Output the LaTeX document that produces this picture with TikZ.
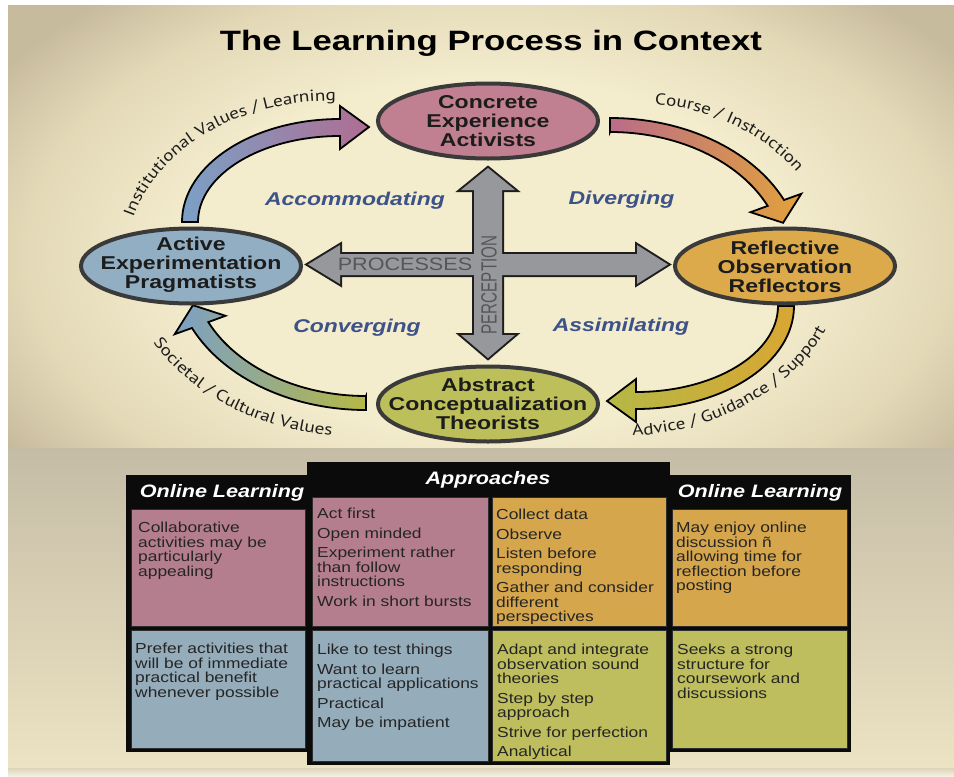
\documentclass[tikz,border=0pt]{standalone}
\usepackage{fontspec}
\setmainfont{Liberation Sans}
\newfontfamily\wideface{Liberation Sans}[FakeStretch=1.24]
\newfontfamily\cellface{Liberation Sans}[FakeStretch=1.2]
\newfontfamily\narrowface{Liberation Sans}[FakeStretch=0.69]
\newfontfamily\arcface{PT Sans}[FakeStretch=1.2]
\usetikzlibrary{shapes.geometric,decorations.text}

\definecolor{bgcenter}{HTML}{F3ECCD}
\definecolor{bgmid}{HTML}{E3D9B7}
\definecolor{bgedge}{HTML}{C7BB9D}
\definecolor{lowtop}{HTML}{C5BCA6}
\definecolor{lowbot}{HTML}{ECE3C3}
\definecolor{ringgray}{HTML}{3A3A3A}
\definecolor{ink}{HTML}{1C1C1C}
\definecolor{cellink}{HTML}{252525}
\definecolor{quadblue}{HTML}{3C5288}
\definecolor{crossfill}{HTML}{97989C}
\definecolor{crossline}{HTML}{1E1E1E}
\definecolor{crossink}{HTML}{56565A}
\definecolor{cepink}{HTML}{C18091}
\definecolor{aeblue}{HTML}{92AEC3}
\definecolor{rogold}{HTML}{DCAA4A}
\definecolor{acolive}{HTML}{BDBF5A}
\definecolor{cellpink}{HTML}{B57E8E}
\definecolor{cellgold}{HTML}{D6A64C}
\definecolor{cellblue}{HTML}{95ACBB}
\definecolor{cellolive}{HTML}{BEBE5E}
\definecolor{arrblue}{HTML}{7BA0C6}
\definecolor{arrmauve}{HTML}{B06D92}
\definecolor{arrpink}{HTML}{BA6C88}
\definecolor{arrorange}{HTML}{E2A23C}
\definecolor{arrgold}{HTML}{D9A633}
\definecolor{arrolive}{HTML}{B5B845}
\definecolor{framebk}{HTML}{0B0B0B}
\definecolor{cellrule}{HTML}{2D2D2D}

% soft glow for the upper panel
\pgfdeclareradialshading{panelglow}{\pgfpoint{0bp}{0bp}}{%
  color(0bp)=(bgcenter); color(13bp)=(bgcenter); color(20bp)=(bgmid);
  color(25bp)=(bgedge); color(50bp)=(bgedge)}

\begin{document}
\begin{tikzpicture}[x=1pt,y=1pt,
  stage/.style={ellipse, draw=ringgray, line width=4pt, inner sep=0pt,
    minimum width=220pt, minimum height=75pt},
  stagetext/.style={align=center, inner sep=0pt, text=ink,
    font=\wideface\bfseries\fontsize{18.6}{19}\selectfont},
  quadrant/.style={anchor=base, text=quadblue,
    font=\wideface\bfseries\itshape\fontsize{18.5}{19}\selectfont},
  bandarrow/.style={draw=black, line width=1.8pt, line join=miter},
  header/.style={text=white, inner sep=0pt,
    font=\cellface\bfseries\itshape\fontsize{18}{18}\selectfont},
  celltext/.style={anchor=north west, align=left, inner sep=0pt, text=cellink,
    font=\cellface\fontsize{14.5}{14.5}\selectfont},
  cellbox/.style={draw=cellrule, line width=1pt},
  arclabel/.style={decorate, decoration={text along path, text align=center,
    text color=ink}}
]
\useasboundingbox (0,0) rectangle (954,-777);

% ---------- backdrop ----------
\fill[white] (0,0) rectangle (954,-777);
\begin{scope}
  \clip (8,-5) rectangle (954,-448);
  \fill[bgedge] (8,-5) rectangle (954,-448);
  \shade[shading=panelglow] (488,-255) ellipse [x radius=580pt, y radius=340pt];
\end{scope}
\shade[top color=lowtop, bottom color=lowbot] (8,-448) rectangle (954,-768);
\shade[top color=lowbot!85!gray, bottom color=lowbot!40!white] (8,-768) rectangle (954,-777);

% ---------- title ----------
\node[anchor=base, text=black, font=\wideface\bfseries\fontsize{28}{28}\selectfont]
  (title) at (491,-50) {The Learning Process in Context};

% ---------- curved cycle arrows ----------
% Active Experimentation -> Concrete Experience
\shadedraw[bandarrow, left color=arrblue, right color=arrmauve]
  (198,-222) -- (182,-222)
  arc[start angle=180, end angle=90, x radius=158pt, y radius=103pt]
  -- (340,-106) -- (369,-127) -- (340,-149) -- (340,-136)
  arc[start angle=90, end angle=180, x radius=142pt, y radius=86pt] -- cycle;
% Concrete Experience -> Reflective Observation
\shadedraw[bandarrow, left color=arrpink, right color=arrorange]
  (610,-132) -- (610,-118)
  arc[start angle=90, end angle=25, x radius=192pt, y radius=142pt]
  -- (801.3,-193.8) -- (783.1,-222.8) -- (750.5,-212.2) -- (767.7,-205.9)
  arc[start angle=25, end angle=90, x radius=174pt, y radius=128pt] -- cycle;
% Reflective Observation -> Abstract Conceptualization
\shadedraw[bandarrow, left color=arrolive, right color=arrgold]
  (778,-306) -- (794,-306)
  arc[start angle=0, end angle=-90, x radius=158pt, y radius=103pt]
  -- (636,-422) -- (607,-401) -- (636,-379) -- (636,-392)
  arc[start angle=-90, end angle=0, x radius=142pt, y radius=86pt] -- cycle;
% Abstract Conceptualization -> Active Experimentation
\shadedraw[bandarrow, left color=arrblue, right color=arrolive]
  (366,-396) -- (366,-410)
  arc[start angle=-90, end angle=-155, x radius=192pt, y radius=142pt]
  -- (174.7,-334.2) -- (192.9,-305.2) -- (225.5,-315.8) -- (208.3,-322.1)
  arc[start angle=-155, end angle=-90, x radius=174pt, y radius=128pt] -- cycle;

% ---------- labels along the arrows ----------
\path[arclabel, decoration={text={|\arcface\fontsize{16}{16}\selectfont|Institutional Values / Learning}}]
  ([shift={(189:204pt and 159pt)}]330,-260)
  arc[start angle=189, end angle=69, x radius=204pt, y radius=159pt];
\path[arclabel, decoration={text={|\arcface\fontsize{16}{16}\selectfont|Course / Instruction}}]
  ([shift={(101:198pt and 176pt)}]640,-280)
  arc[start angle=101, end angle=21, x radius=198pt, y radius=176pt];
\path[arclabel, decoration={text={|\arcface\fontsize{16}{16}\selectfont|Advice / Guidance / Support}}]
  ([shift={(-99:228pt and 186pt)}]620,-250)
  arc[start angle=-99, end angle=-11, x radius=228pt, y radius=186pt];
\path[arclabel, decoration={text={|\arcface\fontsize{16}{16}\selectfont|Societal / Cultural Values}}]
  ([shift={(-166:238pt and 187pt)}]360,-250)
  arc[start angle=-166, end angle=-84, x radius=238pt, y radius=187pt];

% ---------- central cross ----------
\def\crossH{(308,-264.5) -- (340,-245) -- (340,-254) -- (637,-254) -- (637,-245)
  -- (668,-264.5) -- (637,-284) -- (637,-275) -- (340,-275) -- (340,-284) -- cycle}
\def\crossV{(488,-168) -- (515,-190) -- (502,-190) -- (502,-335) -- (515,-335)
  -- (488,-358) -- (461,-335) -- (474,-335) -- (474,-190) -- (461,-190) -- cycle}
\draw[crossline, line width=4pt, line join=miter] \crossH;
\draw[crossline, line width=4pt, line join=miter] \crossV;
\fill[crossfill] \crossH;
\fill[crossfill] \crossV;
\node[text=crossink, inner sep=0pt, font=\cellface\fontsize{18}{18}\selectfont]
  (proc) at (405,-264.5) {PROCESSES};
\node[rotate=90, text=crossink, inner sep=0pt, font=\narrowface\fontsize{22}{22}\selectfont]
  (perc) at (489,-285) {PERCEPTION};

% ---------- learning stages ----------
\node[stage, fill=cepink] (CE) at (488,-121) {};
\node[stagetext] (CEt) at (CE.center) {Concrete\\Experience\\Activists};
\node[stage, fill=aeblue] (AE) at (191,-266) {};
\node[stagetext] (AEt) at ([yshift=1pt]AE.center) {Active\\Experimentation\\Pragmatists};
\node[stage, fill=rogold] (RO) at (785,-266) {};
\node[stagetext] (ROt) at ([yshift=-1pt]RO.center) {Reflective\\Observation\\Reflectors};
\node[stage, fill=acolive] (AC) at (488,-404) {};
\node[stagetext] (ACt) at (AC.center) {Abstract\\Conceptualization\\Theorists};

% ---------- learning styles ----------
\node[quadrant] (qacc) at (355,-205.5) {Accommodating};
\node[quadrant] (qdiv) at (621.5,-204.5) {Diverging};
\node[quadrant] (qcon) at (357,-332.5) {Converging};
\node[quadrant] (qass) at (621,-331.5) {Assimilating};

% ---------- table: left online-learning column ----------
\fill[framebk] (126,-475) rectangle (308,-752);
\filldraw[cellbox, fill=cellpink] (131,-509) rectangle (305,-626);
\filldraw[cellbox, fill=cellblue] (131,-630) rectangle (305,-748);
\node[header] (hleft) at (222,-493) {Online Learning};
\node[celltext] (lpink) at (138,-522)
  {Collaborative\\activities may be\\particularly\\appealing};
\node[celltext] (lblue) at (135,-643)
  {Prefer activities that\\will be of immediate\\practical benefit\\whenever possible};

% ---------- table: right online-learning column ----------
\fill[framebk] (668,-475) rectangle (851,-752);
\filldraw[cellbox, fill=cellgold] (672,-509) rectangle (847,-626);
\filldraw[cellbox, fill=cellolive] (672,-630) rectangle (847,-748);
\node[header] (hright) at (760,-493) {Online Learning};
\node[celltext] (rgold) at (676,-522)
  {May enjoy online\\discussion ñ\\allowing time for\\reflection before\\posting};
\node[celltext] (rolive) at (677,-644)
  {Seeks a strong\\structure for\\coursework and\\discussions};

% ---------- table: approaches column ----------
\fill[framebk] (307,-462) rectangle (670,-765);
\filldraw[cellbox, fill=cellpink] (312,-497) rectangle (488,-626);
\filldraw[cellbox, fill=cellgold] (492,-497) rectangle (666,-626);
\filldraw[cellbox, fill=cellblue] (312,-630) rectangle (488,-761);
\filldraw[cellbox, fill=cellolive] (492,-630) rectangle (666,-761);
\node[header] (happ) at (488,-480) {Approaches};
\node[celltext] (apink) at (317,-508)
  {Act first\\[5pt]Open minded\\[5pt]Experiment rather\\than follow\\instructions\\[5pt]Work in short bursts};
\node[celltext] (agold) at (496,-509)
  {Collect data\\[5pt]Observe\\[5pt]Listen before\\responding\\[5pt]Gather and consider\\different\\perspectives};
\node[celltext] (ablue) at (317,-644)
  {Like to test things\\[5pt]Want to learn\\practical applications\\[5pt]Practical\\[5pt]May be impatient};
\node[celltext] (aolive) at (497,-644)
  {Adapt and integrate\\observation sound\\theories\\[5pt]Step by step\\approach\\[5pt]Strive for perfection\\[5pt]Analytical};
\end{tikzpicture}
\end{document}
